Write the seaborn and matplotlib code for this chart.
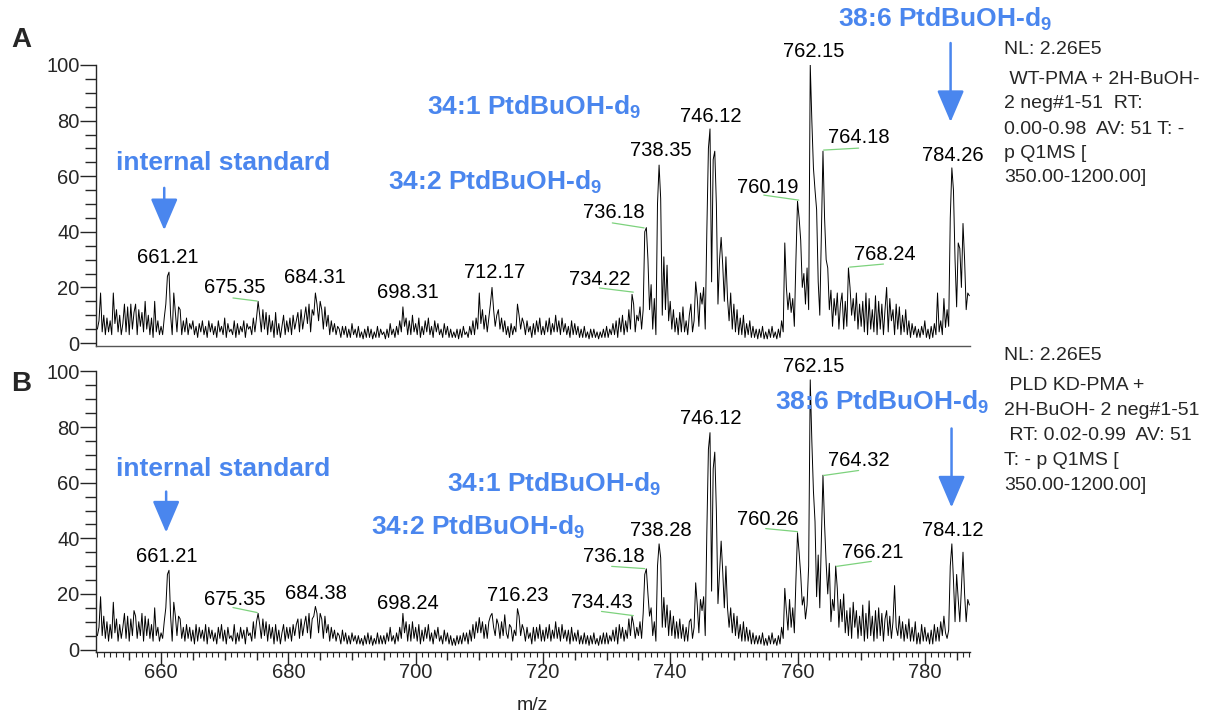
import numpy as np
import matplotlib
matplotlib.use("Agg")
import matplotlib.pyplot as plt
from matplotlib.ticker import MultipleLocator, FixedLocator
import seaborn as sns

# ---------------- data ----------------
MZ_START = 650.0
MZ_STEP = 0.25

# Panel A intensities (%), 4 samples per m/z unit starting at 650.00
intensity_a = [
    5, 8, 18, 4,      10, 3, 9, 4,      8, 3, 18, 7,      12, 4, 10, 3,     # 650-653
    7, 14, 4, 13,     3, 14, 5, 11,     14, 3, 12, 6,     11, 4, 15, 5,     # 654-657
    10, 3, 9, 2,      15, 4, 8, 3,      6, 3, 9, 14,      24, 25.5, 10, 3,  # 658-661
    18, 11, 4, 13,    12, 3, 8, 4,      9, 3, 7, 5,       8, 3, 6, 2,       # 662-665
    7, 4, 8, 3,       6, 2, 8, 4,       7, 3, 6, 2,       8, 4, 6, 3,       # 666-669
    9, 2, 7, 4,       5, 3, 8, 2,       7, 3, 6, 4,       8, 2, 7, 5,       # 670-673
    6, 3, 9, 4,       9, 15, 10, 4,     12, 5, 11, 3,     10, 4, 8, 2,      # 674-677
    11, 3, 7, 2,      6, 10, 3, 8,      4, 9, 3, 10,      5, 8, 11, 4,      # 678-681
    12, 5, 9, 13,     7, 14, 4, 12,     10, 18, 14, 8,    15, 12, 5, 13,    # 682-685
    6, 10, 3, 8,      4, 7, 3, 6,       5, 2, 6, 3,       6, 2, 5, 2,       # 686-689
    7, 3, 5, 2,       6, 2, 4, 1.5,     5, 2, 6, 2,       5, 1.5, 4, 2,     # 690-693
    6, 2, 5, 3,       4, 1.5, 5, 2,     7, 3, 5, 2,       6, 3, 8, 4,       # 694-697
    13, 6, 9, 3,      8, 3, 10, 4,      7, 3, 9, 2,       6, 3, 8, 4,       # 698-701
    9, 3, 6, 2,       8, 4, 7, 3,       5, 2, 7, 3,       6, 2, 5, 2,       # 702-705
    4, 2, 5, 1.5,     5, 2, 6, 3,       4, 2, 6, 3,       8, 3, 9, 5,       # 706-709
    18, 7, 12, 5,     10, 4, 9, 14,     20, 12, 6, 10,    12, 5, 9, 4,      # 710-713
    8, 3, 6, 2,       7, 3, 6, 4,       14, 10, 5, 9,     7, 3, 8, 4,       # 714-717
    6, 2, 7, 3,       8, 4, 9, 3,       6, 3, 8, 4,       9, 3, 7, 4,       # 718-721
    10, 4, 8, 3,      9, 4, 7, 3,       6, 2, 8, 3,       7, 3, 6, 2,       # 722-725
    5, 2, 6, 2,       4, 1.5, 5, 2,     5, 2, 4, 1.5,     4, 2, 5, 2,       # 726-729
    6, 2, 5, 3,       7, 3, 8, 2,       9, 4, 10, 3,      8, 4, 12, 5,      # 730-733
    17.5, 14, 4, 10,  8, 13, 5, 12,     40, 41.5, 30, 12, 21, 5, 16, 3,     # 734-737
    50, 64, 52, 10,   31, 12, 28, 8,    15, 5, 12, 4,     9, 3, 11, 4,      # 738-741
    13, 4, 8, 3,      10, 14, 4, 8,     22, 16, 6, 18,    14, 20, 5, 40,    # 742-745
    70, 77, 22, 66,   69, 50, 14, 30,   38, 28, 15, 31,   16, 8, 18, 5,     # 746-749
    14, 4, 12, 3,     9, 3, 10, 2,      7, 3, 8, 2,       6, 2, 5, 1.5,     # 750-753
    5, 2, 6, 1.5,     4, 1.5, 5, 2,     6, 2, 4, 1.5,     5, 2, 8, 4,       # 754-757
    36, 20, 12, 18,   11, 16, 6, 30,    51, 45, 37, 20,   25, 14, 27, 12,   # 758-761
    100, 80, 63, 55,  48, 22, 10, 40,   69, 45, 30, 27,   12, 19, 6, 16,    # 762-765
    10, 18, 5, 14,    18, 5, 15, 6,     27, 20, 10, 16,   8, 18, 5, 14,     # 766-769
    6, 15, 4, 18,     3, 16, 5, 12,     4, 17, 3, 15,     5, 14, 3, 12,     # 770-773
    20, 4, 16, 8,     12, 3, 14, 5,     13, 3, 10, 4,     12, 3, 8, 2,      # 774-777
    7, 3, 6, 2,       5, 2, 6, 3,       8, 2, 5, 1.5,     6, 2, 7, 3,       # 778-781
    18, 4, 8, 3,      16, 5.6, 12, 6,   45, 63, 55, 30,   13, 36, 34, 20,   # 782-785
    43, 30, 12, 18,   17,                                                   # 786-787
]

# Panel B intensities (%), same sampling
intensity_b = [
    5, 8, 19, 5,      12, 4, 10, 3,     9, 4, 17, 6,      11, 3, 9, 4,      # 650-653
    8, 13, 4, 12,     3, 11, 5, 14,     12, 4, 10, 5,     13, 3, 12, 5,     # 654-657
    11, 4, 9, 3,      15, 5, 8, 3,      6, 4, 10, 15,     27, 28.5, 12, 3,  # 658-661
    17, 12, 5, 12,    11, 4, 8, 3,      9, 4, 8, 3,       7, 2, 9, 3,       # 662-665
    8, 4, 7, 3,       9, 2, 8, 4,       7, 3, 6, 2,       8, 4, 9, 3,       # 666-669
    7, 2, 8, 4,       5, 3, 9, 2,       6, 3, 8, 4,       7, 2, 8, 5,       # 670-673
    6, 3, 10, 4,      10, 13, 9, 4,     11, 5, 10, 3,     9, 4, 8, 2,       # 674-677
    9, 3, 7, 2,       6, 9, 3, 8,       4, 8, 3, 9,       5, 9, 11, 4,      # 678-681
    11, 5, 9, 12,     6, 13, 4, 11,     12, 15.5, 13, 6,  13, 11, 4, 12,    # 682-685
    6, 9, 3, 8,       4, 7, 3, 6,       5, 2, 7, 3,       6, 2, 5, 2,       # 686-689
    6, 3, 5, 2,       5, 2, 4, 1.5,     5, 2, 6, 2,       5, 1.5, 4, 2,     # 690-693
    6, 2, 5, 2,       5, 2, 6, 3,       8, 3, 5, 2,       6, 3, 8, 4,       # 694-697
    13, 6, 10, 3,     9, 3, 10, 4,      8, 3, 9, 2,       7, 3, 8, 4,       # 698-701
    9, 3, 6, 2,       7, 4, 8, 3,       5, 2, 7, 3,       6, 2, 5, 1.5,     # 702-705
    4, 1.5, 5, 2,     5, 2, 6, 3,       6, 2, 7, 3,       9, 4, 10, 6,      # 706-709
    11.5, 6, 10, 4,   9, 4, 10, 12,     13, 8, 5, 11,     9, 4, 10, 5,      # 710-713
    12.5, 6, 4, 9,    8, 3, 7, 5,       14.7, 12, 5, 9,   7, 3, 8, 4,       # 714-717
    6, 2, 8, 3,       8, 4, 9, 3,       7, 3, 8, 4,       9, 3, 7, 4,       # 718-721
    10, 4, 8, 3,      9, 4, 7, 3,       7, 2, 8, 3,       6, 3, 7, 2,       # 722-725
    5, 2, 6, 2,       5, 1.5, 5, 2,     6, 2, 4, 1.5,     5, 2, 6, 2,       # 726-729
    6, 2, 5, 3,       7, 3, 8, 2,       9, 4, 8, 3,       7, 4, 11, 5,      # 730-733
    12, 9, 4, 8,      5, 10, 4, 13,     27, 29, 20, 12,   15, 5, 10, 3,     # 734-737
    30, 38, 33, 8,    18.7, 8, 16, 5,   14, 5, 12, 4,     10, 4, 11, 4,     # 738-741
    9, 3, 8, 3,       10, 11, 4, 8,     24, 16, 6, 18,    14, 19, 5, 42,    # 742-745
    72, 78, 21, 65,   71, 50, 16.5, 28, 39, 28, 15, 30,   15, 8, 15, 6,     # 746-749
    13, 5, 12, 4,     9, 3, 10, 3,      8, 3, 7, 2,       6, 2, 5, 2,       # 750-753
    5, 2, 6, 1.5,     4, 1.5, 5, 2,     6, 2, 4, 1.5,     5, 2, 8, 4,       # 754-757
    22, 14, 7, 18,    8, 15, 6, 25,     42, 35, 27, 16,   19, 11, 16, 30,   # 758-761
    97, 75, 57, 46,   19, 34, 15, 40,   62.7, 45, 31, 20, 31, 10, 18, 14,   # 762-765
    30, 22, 8, 18,    10, 20, 6, 14,    5, 15, 4, 17,     8, 14, 4, 12,     # 766-769
    5, 16, 3, 13,     4, 17.5, 5, 12,   3, 14, 4, 15,     5, 13, 3, 11,     # 770-773
    14, 5, 12, 4,     10, 23, 8, 5,     12, 4, 10, 3,     9, 4, 11, 3,      # 774-777
    8, 3, 10, 2,      6, 2, 9, 3,       8, 3, 6, 2,       7, 2, 9, 3,       # 778-781
    8, 3, 10, 5,      12, 6, 4, 7,      30, 38, 25, 10,   27, 18, 10, 22,   # 782-785
    35, 20, 10, 18,   16,                                                   # 786-787
]

# Peak labels: (text, text_x, text_y, leader line or None)
peaks_a = [
    ("661.21", 661.0, 30.6, None),
    ("675.35", 671.6, 19.8, (671.3, 16.2, 675.1, 15.1)),
    ("684.31", 684.1, 23.4, None),
    ("698.31", 698.8, 18.0, None),
    ("712.17", 712.4, 25.2, None),
    ("734.22", 729.0, 22.7, (728.9, 19.8, 734.2, 18.3)),
    ("736.18", 731.1, 46.8, (730.9, 43.2, 735.9, 41.4)),
    ("738.35", 738.6, 69.1, None),
    ("746.12", 746.3, 81.3, None),
    ("760.19", 755.3, 56.1, (754.7, 53.2, 760.2, 51.4)),
    ("762.15", 762.5, 104.7, None),
    ("764.18", 769.7, 74.1, (764.1, 69.4, 769.6, 70.1)),
    ("768.24", 773.7, 31.7, (768.2, 27.3, 773.5, 28.4)),
    ("784.26", 784.4, 67.6, None),
]
peaks_b = [
    ("661.21", 660.9, 33.5, None),
    ("675.35", 671.6, 18.0, (671.3, 15.1, 675.1, 13.3)),
    ("684.38", 684.4, 20.1, None),
    ("698.24", 698.8, 16.5, None),
    ("716.23", 716.1, 19.4, None),
    ("734.43", 729.3, 16.9, (729.2, 13.7, 734.2, 12.2)),
    ("736.18", 731.1, 33.5, (730.8, 29.9, 736.0, 29.1)),
    ("738.28", 738.6, 42.8, None),
    ("746.12", 746.3, 83.1, None),
    ("760.26", 755.3, 46.8, (755.0, 43.5, 760.0, 42.4)),
    ("762.15", 762.5, 101.8, None),
    ("764.32", 769.7, 68.0, (764.1, 62.6, 769.6, 64.4)),
    ("766.21", 771.8, 34.9, (766.1, 29.9, 771.6, 31.7)),
    ("784.12", 784.4, 42.8, None),
]

# Blue lipid annotations: (text, x, y)
notes_a = [
    ("internal standard", 669.8, 64.7),
    ("34:1 PtdBuOH-d$_\\mathbf{9}$", 718.6, 84.9),
    ("34:2 PtdBuOH-d$_\\mathbf{9}$", 712.5, 57.6),
    ("38:6 PtdBuOH-d$_\\mathbf{9}$", 783.1, 116.5),
]
notes_b = [
    ("internal standard", 669.7, 65.1),
    ("34:1 PtdBuOH-d$_\\mathbf{9}$", 721.7, 59.4),
    ("34:2 PtdBuOH-d$_\\mathbf{9}$", 709.8, 43.9),
    ("38:6 PtdBuOH-d$_\\mathbf{9}$", 773.2, 88.8),
]
# arrows: (x, y_start, y_end)
arrows_a = [(660.5, 55.8, 40.6), (784.05, 107.9, 79.5)]
arrows_b = [(660.8, 56.8, 42.1), (784.2, 79.5, 51.1)]

info_a = ["NL: 2.26E5", " WT-PMA + 2H-BuOH-", "2 neg#1-51  RT:",
          "0.00-0.98  AV: 51 T: -", "p Q1MS [", "350.00-1200.00]"]
info_b = ["NL: 2.26E5", " PLD KD-PMA +", "2H-BuOH- 2 neg#1-51",
          " RT: 0.02-0.99  AV: 51", "T: - p Q1MS [", "350.00-1200.00]"]

# ---------------- style ----------------
sns.set_style("ticks")
plt.rcParams['font.family'] = ['Liberation Sans', 'DejaVu Sans']
plt.rcParams['mathtext.fontset'] = 'custom'
plt.rcParams['mathtext.rm'] = 'Liberation Sans'
plt.rcParams['mathtext.bf'] = 'Liberation Sans:bold'
plt.rcParams['mathtext.it'] = 'Liberation Sans:italic'

PEAK_SIZE = 14.5
BLUE = '#4A86EE'
GREEN = '#7DD27D'

W, H = 1215, 717
fig = plt.figure(figsize=(W / 100, H / 100), dpi=100)
axA = fig.add_axes([96 / W, 1 - 345.8 / H, 874 / W, 280.8 / H])
axB = fig.add_axes([96 / W, 1 - 652.3 / H, 874 / W, 280.8 / H])

n = len(intensity_a)
mz = MZ_START + MZ_STEP * np.arange(n)


def style_axis(ax, values, show_x):
    sns.lineplot(x=mz, y=np.asarray(values), ax=ax, color='black', lw=0.7,
                 estimator=None, sort=False)
    ax.set_xlim(649.78, 787.1)
    ax.set_ylim(-1, 100)
    for s in ('top', 'right'):
        ax.spines[s].set_visible(False)
    ax.spines['left'].set_bounds(-1, 100)
    ax.spines['left'].set_linewidth(1.0)
    ax.spines['bottom'].set_linewidth(1.0)
    ax.yaxis.set_major_locator(FixedLocator([0, 20, 40, 60, 80, 100]))
    ax.yaxis.set_minor_locator(MultipleLocator(5))
    ax.tick_params(axis='y', which='major', length=11.3, width=1.0, pad=0.5,
                   labelsize=14.5, direction='out')
    ax.tick_params(axis='y', which='minor', length=7.7, width=1.0, direction='out')
    ax.set_ylabel('')
    ax.set_xlabel('')
    if show_x:
        majors = list(range(655, 790, 5))
        ax.xaxis.set_major_locator(FixedLocator(majors))
        ax.set_xticklabels([str(m) if m % 20 == 0 else '' for m in majors])
        ax.xaxis.set_minor_locator(MultipleLocator(1))
        ax.tick_params(axis='x', which='major', length=5.5, width=1.0, pad=2,
                       labelsize=14.5, direction='out')
        ax.tick_params(axis='x', which='minor', length=3.6, width=0.8, direction='out')
        ticks = ax.xaxis.get_major_ticks()
        for m, t in zip(majors, ticks):
            if m % 20 == 0:
                t.tick1line.set_markersize(9.2)
    else:
        ax.tick_params(axis='x', which='both', bottom=False, labelbottom=False)
        ax.spines['bottom'].set_color('#555555')


def annotate(ax, peaks, notes, arrows):
    for txt, x, y, line in peaks:
        ax.text(x, y, txt, ha='center', va='center', fontsize=PEAK_SIZE,
                color='black', clip_on=False)
        if line is not None:
            ax.plot([line[0], line[2]], [line[1], line[3]], color=GREEN,
                    lw=0.9, clip_on=False)
    for txt, x, y in notes:
        ax.text(x, y, txt, ha='center', va='center', fontsize=19,
                fontweight='bold', color=BLUE, clip_on=False)
    for x, y0, y1 in arrows:
        ax.annotate('', xy=(x, y1), xytext=(x, y0),
                    arrowprops=dict(arrowstyle='-|>,head_length=1.4,head_width=0.6',
                                    color=BLUE, lw=1.8, shrinkA=0, shrinkB=0,
                                    mutation_scale=14),
                    annotation_clip=False)


style_axis(axA, intensity_a, show_x=False)
style_axis(axB, intensity_b, show_x=True)
annotate(axA, peaks_a, notes_a, arrows_a)
annotate(axB, peaks_b, notes_b, arrows_b)

fig.text(532 / W, 1 - 705 / H, 'm/z', ha='center', va='center', fontsize=14)
fig.text(21 / W, 1 - 40 / H, 'A', ha='center', va='center', fontsize=20, fontweight='bold')
fig.text(21 / W, 1 - 384 / H, 'B', ha='center', va='center', fontsize=20, fontweight='bold')

ys_a = [50, 80, 104, 129, 154, 178]
ys_b = [355, 385, 410, 436, 461, 486]
for txt, yy in zip(info_a, ys_a):
    fig.text(1004 / W, 1 - yy / H, txt, ha='left', va='center', fontsize=14)
for txt, yy in zip(info_b, ys_b):
    fig.text(1004 / W, 1 - yy / H, txt, ha='left', va='center', fontsize=14)

fig.savefig('out.png', dpi=100)
